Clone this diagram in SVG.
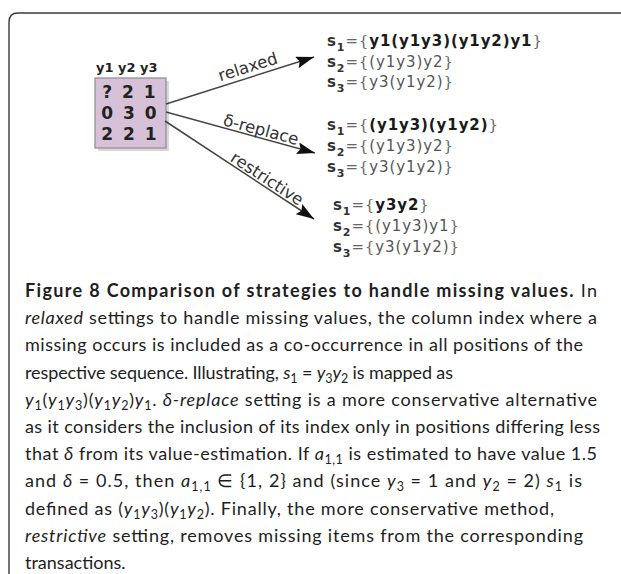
<svg xmlns="http://www.w3.org/2000/svg" width="621" height="574" viewBox="0 0 621 574">
<style>
.frame{fill:none;stroke:#3a3a3a;stroke-width:1.4}
.conn{stroke:#444;stroke-width:1.5;fill:none}
.lbl{font-family:"DejaVu Sans",sans-serif;font-size:16.5px;fill:#333;text-anchor:middle}
.hdr{font-family:"DejaVu Sans",sans-serif;font-weight:bold;font-size:13px;fill:#222}
.cell{font-family:"DejaVu Sans",sans-serif;font-weight:bold;font-size:17px;fill:#222;text-anchor:middle;letter-spacing:2px}
.seq{font-family:"DejaVu Sans",sans-serif;font-size:15px;letter-spacing:0.9px}
.sl{font-weight:bold;fill:#333}
.sb{font-weight:bold;fill:#333;font-size:11px}
.eq{fill:#666;font-family:"DejaVu Serif",serif;font-weight:normal}
.bd{font-weight:bold;fill:#1a1a1a}
.nm{fill:#555}
.cap{font-family:Lato,"Open Sans",sans-serif;font-size:18px;fill:#1e1e1e}
.capb{font-weight:bold}
.it{font-style:italic}
.sub{font-size:12.5px}
</style>
<defs>
<marker id="ah" viewBox="0 0 18 12" refX="18" refY="6" markerWidth="18" markerHeight="12" markerUnits="userSpaceOnUse" orient="auto">
<path d="M0,0 L18,6 L0,12 L3,6 Z" fill="#111"/>
</marker>
</defs>

<path class="frame" d="M9,574 L9,22 Q9,13 18,13 L621,13"/>

<g id="matrix">
<text class="hdr" x="96" y="72">y1 y2 y3</text>
<rect x="98" y="81" width="71" height="70" fill="#c8c8c8" opacity="0.7"/>
<rect x="95" y="78" width="71" height="70" fill="#d7c1d8" stroke="#8e8a90" stroke-width="1.2"/>
<text class="cell" x="130" y="98">? 2 1</text>
<text class="cell" x="130" y="119">0 3 0</text>
<text class="cell" x="130" y="140">2 2 1</text>
</g>

<g id="connectors">
<line class="conn" x1="166" y1="104" x2="314" y2="57" marker-end="url(#ah)"/>
<line class="conn" x1="166" y1="112" x2="315" y2="153" marker-end="url(#ah)"/>
<line class="conn" x1="165" y1="121" x2="314" y2="219" marker-end="url(#ah)"/>
<text class="lbl" transform="translate(251,77) rotate(-17.6)" y="-5">relaxed</text>
<text class="lbl" transform="translate(259,137) rotate(15.1)" y="-2">δ-replace</text>
<text class="lbl" transform="translate(263,185) rotate(33.2)" y="-2">restrictive</text>
</g>

<g id="relaxed-result">
<text class="seq" x="327" y="46"><tspan class="sl">s</tspan><tspan class="sb" dy="5">1</tspan><tspan class="eq" dy="-5">={</tspan><tspan class="bd">y1(y1y3)(y1y2)y1</tspan><tspan class="eq">}</tspan></text>
<text class="seq" x="327" y="67"><tspan class="sl">s</tspan><tspan class="sb" dy="5">2</tspan><tspan class="eq" dy="-5">={</tspan><tspan class="nm">(y1y3)y2</tspan><tspan class="eq">}</tspan></text>
<text class="seq" x="327" y="87"><tspan class="sl">s</tspan><tspan class="sb" dy="5">3</tspan><tspan class="eq" dy="-5">={</tspan><tspan class="nm">y3(y1y2)</tspan><tspan class="eq">}</tspan></text>
</g>

<g id="replace-result">
<text class="seq" x="327" y="130"><tspan class="sl">s</tspan><tspan class="sb" dy="5">1</tspan><tspan class="eq" dy="-5">={</tspan><tspan class="bd">(y1y3)(y1y2)</tspan><tspan class="eq">}</tspan></text>
<text class="seq" x="327" y="151"><tspan class="sl">s</tspan><tspan class="sb" dy="5">2</tspan><tspan class="eq" dy="-5">={</tspan><tspan class="nm">(y1y3)y2</tspan><tspan class="eq">}</tspan></text>
<text class="seq" x="327" y="172"><tspan class="sl">s</tspan><tspan class="sb" dy="5">3</tspan><tspan class="eq" dy="-5">={</tspan><tspan class="nm">y3(y1y2)</tspan><tspan class="eq">}</tspan></text>
</g>

<g id="restrictive-result">
<text class="seq" x="333" y="210"><tspan class="sl">s</tspan><tspan class="sb" dy="5">1</tspan><tspan class="eq" dy="-5">={</tspan><tspan class="bd">y3y2</tspan><tspan class="eq">}</tspan></text>
<text class="seq" x="333" y="231"><tspan class="sl">s</tspan><tspan class="sb" dy="5">2</tspan><tspan class="eq" dy="-5">={</tspan><tspan class="nm">(y1y3)y1</tspan><tspan class="eq">}</tspan></text>
<text class="seq" x="333" y="252"><tspan class="sl">s</tspan><tspan class="sb" dy="5">3</tspan><tspan class="eq" dy="-5">={</tspan><tspan class="nm">y3(y1y2)</tspan><tspan class="eq">}</tspan></text>
</g>

<g id="caption">
<text class="cap" x="25" y="297" textLength="572" lengthAdjust="spacing"><tspan class="capb">Figure 8 Comparison of strategies to handle missing values.</tspan> In</text>
<text class="cap" x="25" y="324" textLength="572" lengthAdjust="spacing"><tspan class="it">relaxed</tspan> settings to handle missing values, the column index where a</text>
<text class="cap" x="25" y="351" textLength="558" lengthAdjust="spacing">missing occurs is included as a co-occurrence in all positions of the</text>
<text class="cap" x="25" y="379" textLength="428" lengthAdjust="spacing">respective sequence. Illustrating, <tspan class="it">s</tspan><tspan class="sub" dy="4">1</tspan><tspan dy="-4"> = </tspan><tspan class="it">y</tspan><tspan class="sub" dy="4">3</tspan><tspan class="it" dy="-4">y</tspan><tspan class="sub" dy="4">2</tspan><tspan dy="-4"> is mapped as</tspan></text>
<text class="cap" x="25" y="406" textLength="572" lengthAdjust="spacing"><tspan class="it">y</tspan><tspan class="sub" dy="4">1</tspan><tspan dy="-4">(</tspan><tspan class="it">y</tspan><tspan class="sub" dy="4">1</tspan><tspan class="it" dy="-4">y</tspan><tspan class="sub" dy="4">3</tspan><tspan dy="-4">)(</tspan><tspan class="it">y</tspan><tspan class="sub" dy="4">1</tspan><tspan class="it" dy="-4">y</tspan><tspan class="sub" dy="4">2</tspan><tspan dy="-4">)</tspan><tspan class="it">y</tspan><tspan class="sub" dy="4">1</tspan><tspan dy="-4">. </tspan><tspan class="it">δ-replace</tspan> setting is a more conservative alternative</text>
<text class="cap" x="25" y="433" textLength="575" lengthAdjust="spacing">as it considers the inclusion of its index only in positions differing less</text>
<text class="cap" x="25" y="460" textLength="572" lengthAdjust="spacing">that <tspan class="it">δ</tspan> from its value-estimation. If <tspan class="it">a</tspan><tspan class="sub" dy="4">1,1</tspan><tspan dy="-4"> is estimated to have value 1.5</tspan></text>
<text class="cap" x="25" y="487" textLength="557" lengthAdjust="spacing">and <tspan class="it">δ</tspan> = 0.5, then <tspan class="it">a</tspan><tspan class="sub" dy="4">1,1</tspan><tspan dy="-4"> ∈ {1, 2} and (since </tspan><tspan class="it">y</tspan><tspan class="sub" dy="4">3</tspan><tspan dy="-4"> = 1 and </tspan><tspan class="it">y</tspan><tspan class="sub" dy="4">2</tspan><tspan dy="-4"> = 2) </tspan><tspan class="it">s</tspan><tspan class="sub" dy="4">1</tspan><tspan dy="-4"> is</tspan></text>
<text class="cap" x="25" y="515" textLength="529" lengthAdjust="spacing">defined as (<tspan class="it">y</tspan><tspan class="sub" dy="4">1</tspan><tspan class="it" dy="-4">y</tspan><tspan class="sub" dy="4">3</tspan><tspan dy="-4">)(</tspan><tspan class="it">y</tspan><tspan class="sub" dy="4">1</tspan><tspan class="it" dy="-4">y</tspan><tspan class="sub" dy="4">2</tspan><tspan dy="-4">). Finally, the more conservative method,</tspan></text>
<text class="cap" x="25" y="542" textLength="558" lengthAdjust="spacing"><tspan class="it">restrictive</tspan> setting, removes missing items from the corresponding</text>
<text class="cap" x="25" y="569">transactions.</text>
</g>
</svg>
